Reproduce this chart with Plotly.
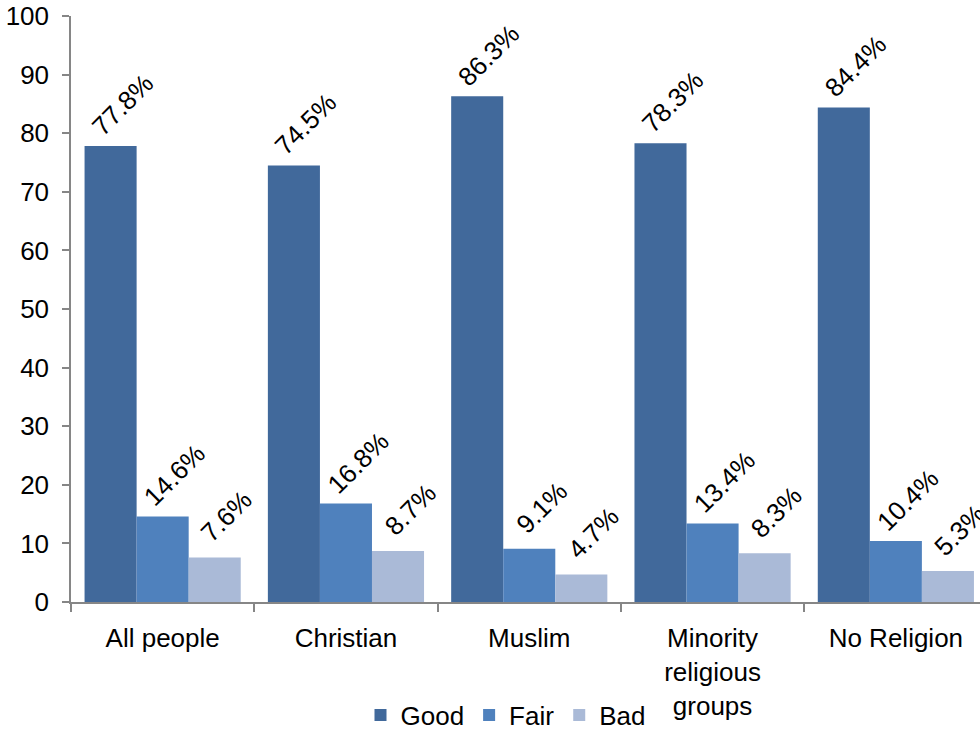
import plotly.graph_objects as go

categories = ["All people", "Christian", "Muslim", "Minority<br>religious<br>groups", "No Religion"]
series_names = ["Good", "Fair", "Bad"]
good = [77.8, 74.5, 86.3, 78.3, 84.4]
fair = [14.6, 16.8, 9.1, 13.4, 10.4]
bad = [7.6, 8.7, 4.7, 8.3, 5.3]
y_ticks = [0, 10, 20, 30, 40, 50, 60, 70, 80, 90, 100]

colors = ["#41699B", "#4F81BD", "#AABAD7"]
series = [good, fair, bad]
FONT = "Liberation Sans, Arial, sans-serif"
FS = 26

bargap = 0.148
bar_w = (1 - bargap) / 3

fig = go.Figure()
for name, vals, col in zip(series_names, series, colors):
    fig.add_trace(go.Bar(name=name, x=categories, y=vals, marker=dict(color=col, line=dict(width=0))))

annotations = []
for j, vals in enumerate(series):
    for i, v in enumerate(vals):
        annotations.append(dict(
            x=i + (j - 1) * bar_w, y=v, xref="x", yref="y",
            text=f"{v:.1f}%", showarrow=False, textangle=-45,
            xanchor="center", yanchor="middle", xshift=12, yshift=41,
            font=dict(family=FONT, size=FS, color="#000000"),
        ))

fig.update_layout(
    width=980, height=733,
    margin=dict(l=71, r=0, t=16, b=131, autoexpand=False),
    paper_bgcolor="white", plot_bgcolor="white",
    barmode="group", bargap=bargap, bargroupgap=0,
    font=dict(family=FONT, size=FS, color="#000000"),
    showlegend=True,
    legend=dict(orientation="h", x=0.478, xanchor="center", y=-0.193, yanchor="middle",
                font=dict(family=FONT, size=FS, color="#000000"),
                itemwidth=30, tracegroupgap=0, traceorder="normal",
                bgcolor="rgba(0,0,0,0)"),
    annotations=annotations,
)
fig.update_xaxes(
    type="category", range=[-0.5, 4.459],
    showline=True, linecolor="#868686", linewidth=1.5,
    ticks="outside", ticklen=8, tickcolor="#868686", tickwidth=1.5,
    tickson="boundaries", showgrid=False, zeroline=False, automargin=False,
    ticklabelstandoff=12,
    tickfont=dict(family=FONT, size=FS, color="#000000"),
)
fig.update_yaxes(
    range=[0, 100], tickvals=y_ticks,
    showline=True, linecolor="#868686", linewidth=1.5,
    ticks="outside", ticklen=7, tickcolor="#868686", tickwidth=1.5,
    showgrid=False, zeroline=False, automargin=False,
    ticklabelstandoff=8,
    tickfont=dict(family=FONT, size=FS, color="#000000"),
)

fig.write_html("out.html")
